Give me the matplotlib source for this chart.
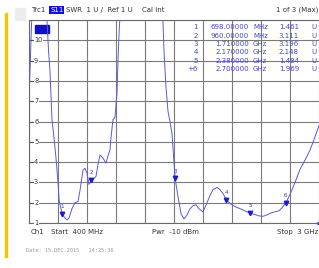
import numpy as np
import matplotlib
matplotlib.use("Agg")
import matplotlib.pyplot as plt
from matplotlib.patches import Rectangle

# S11 SWR trace, frequency in MHz
freq = [400, 409, 418, 427, 470, 520, 552, 561, 575, 588, 606, 624, 642, 660, 669, 678,
        698, 714, 741, 759, 785, 812, 839, 857, 884, 902, 920, 938, 960, 983, 1001, 1019,
        1037, 1063, 1090, 1108, 1126, 1135, 1153, 1171, 1189, 1198, 1207, 1216, 1300, 1450,
        1592, 1601, 1610, 1628, 1646, 1664, 1682, 1710, 1736, 1763, 1790, 1817, 1844, 1871,
        1897, 1924, 1960, 1996, 2023, 2050, 2086, 2112, 2139, 2170, 2205, 2250, 2295, 2337,
        2380, 2424, 2462, 2498, 2534, 2570, 2605, 2641, 2668, 2700, 2740, 2785, 2830, 2875,
        2920, 2955, 3000]
swr = [7.2, 8.5, 10.0, 11.5, 14.0, 13.5, 11.8, 11.0, 9.5, 8.5, 6.1, 5.2, 4.2, 3.0, 2.2, 1.9,
       1.461, 1.3, 1.15, 1.25, 1.7, 2.0, 2.05, 2.6, 3.6, 3.7, 3.45, 2.9, 3.111, 3.2, 3.3, 3.9,
       4.35, 4.2, 3.95, 4.3, 4.6, 5.2, 6.1, 6.2, 7.4, 9.0, 10.3, 11.2, 15.0, 15.0,
       11.5, 11.0, 9.5, 7.7, 6.5, 6.0, 5.4, 3.196, 2.3, 1.45, 1.2, 1.4, 1.7, 1.85,
       1.9, 1.7, 1.55, 2.0, 2.35, 2.65, 2.75, 2.65, 2.45, 2.148, 1.95, 1.8, 1.7, 1.6,
       1.484, 1.42, 1.35, 1.33, 1.4, 1.5, 1.55, 1.6, 1.75, 1.969, 2.4, 3.0, 3.65, 4.1,
       4.6, 5.1, 5.8]

mk_names = ["1", "2", "3", "4", "5", "6"]
mk_table_names = ["1", "2", "3", "4", "5", "+6"]
mk_freq = [698.0, 960.0, 1710.0, 2170.0, 2380.0, 2700.0]
mk_freq_txt = ["698.00000", "960.00000", "1.710000", "2.170000", "2.380000", "2.700000"]
mk_unit = ["MHz", "MHz", "GHz", "GHz", "GHz", "GHz"]
mk_val = [1.461, 3.111, 3.196, 2.148, 1.484, 1.969]

f_start, f_stop = 400, 3000
y_ticks = [1, 2, 3, 4, 5, 6, 7, 8, 9, 10]
ref_level = 1

W, H = 319, 268
fig = plt.figure(figsize=(W / 100, H / 100), dpi=100)
fig.patch.set_facecolor("white")

def fx(px):
    return px / W

def fy(py):
    return 1 - py / H

# yellow side bar and grey corner box
fig.patches.append(Rectangle((fx(5), fy(257)), fx(2.5), (257 - 13) / H, color="#f7c600",
                             transform=fig.transFigure, figure=fig))
fig.patches.append(Rectangle((fx(15), fy(20)), fx(10), 12 / H, color="#ececec",
                             transform=fig.transFigure, figure=fig))

ax = fig.add_axes([fx(29), fy(223), fx(290), (223 - 20) / H])
ax.set_xlim(f_start, f_stop)
ax.set_ylim(1, 11)
ax.set_xticks(np.linspace(f_start, f_stop, 11))
ax.set_yticks(np.arange(1, 12))
ax.grid(True, color="#7a7a7a", lw=0.8)
ax.tick_params(length=0, labelbottom=False, labelleft=False)
for s in ax.spines.values():
    s.set_color("#6a6a6a")
    s.set_linewidth(0.8)
ax.spines["right"].set_visible(False)

trace_c = "#5a5ad8"
ax.plot(freq, swr, color=trace_c, lw=0.7, clip_on=True)

# markers
ax.plot(mk_freq, mk_val, linestyle="none", marker="v", ms=3.2, color="#1a1ad0")
for n, f, v in zip(mk_names, mk_freq, mk_val):
    ax.annotate(n, (f, v), xytext=(0, 3.5), textcoords="offset points", ha="center",
                va="bottom", fontsize=4, color="#3030d0")

# y labels inside the plot
for t in y_ticks:
    ax.plot([f_start, f_start + 35], [t, t], color="#555555", lw=0.8)
    ax.text(f_start + 45, t, str(t), fontsize=4.8, color="#333333", ha="left", va="center",
            bbox=dict(facecolor="white", edgecolor="none", pad=0.3))

# trace indicator box and reference position triangle
ax.add_patch(Rectangle((0.02, 0.935), 0.048, 0.04, transform=ax.transAxes, color="#1010c8"))
ax.plot([f_stop], [ref_level], marker="<", ms=3.5, color="#1a1ad0", clip_on=False)

# header
fs = 5.0
hc = "#333333"
fig.text(fx(31), fy(10), "Trc1", fontsize=fs, color=hc, va="center")
fig.text(fx(50), fy(10), "S11", fontsize=fs, color="white", va="center",
         bbox=dict(facecolor="#1010d8", edgecolor="none", pad=0.6))
fig.text(fx(66), fy(10), "SWR  1 U /  Ref 1 U", fontsize=fs, color=hc, va="center")
fig.text(fx(142), fy(10), "Cal int", fontsize=fs, color=hc, va="center")
fig.text(fx(318), fy(10), "1 of 3 (Max)", fontsize=fs, color=hc, va="center", ha="right")

# marker table
tc = "#4545cc"
for i in range(len(mk_names)):
    y = fy(27 + i * 8.5)
    fig.text(fx(198), y, mk_table_names[i], fontsize=fs, color=tc, ha="right", va="center")
    fig.text(fx(249), y, mk_freq_txt[i], fontsize=fs, color=tc, ha="right", va="center")
    fig.text(fx(253), y, mk_unit[i], fontsize=fs, color=tc, ha="left", va="center")
    fig.text(fx(299), y, "%.3f" % mk_val[i], fontsize=fs, color=tc, ha="right", va="center")
    fig.text(fx(311), y, "U", fontsize=fs, color=tc, ha="left", va="center")

# footer
fig.text(fx(31), fy(232), "Ch1", fontsize=fs, color=hc, va="center")
fig.text(fx(51), fy(232), "Start  400 MHz", fontsize=fs, color=hc, va="center")
fig.text(fx(152), fy(232), "Pwr  -10 dBm", fontsize=fs, color=hc, va="center")
fig.text(fx(318), fy(232), "Stop  3 GHz", fontsize=fs, color=hc, va="center", ha="right")
fig.text(fx(26), fy(250), "Date: 15.DEC.2015   14:25:36", fontsize=3.8, color="#999999",
         va="center", family="DejaVu Sans Mono")

fig.savefig("out.png", dpi=100, facecolor="white")
